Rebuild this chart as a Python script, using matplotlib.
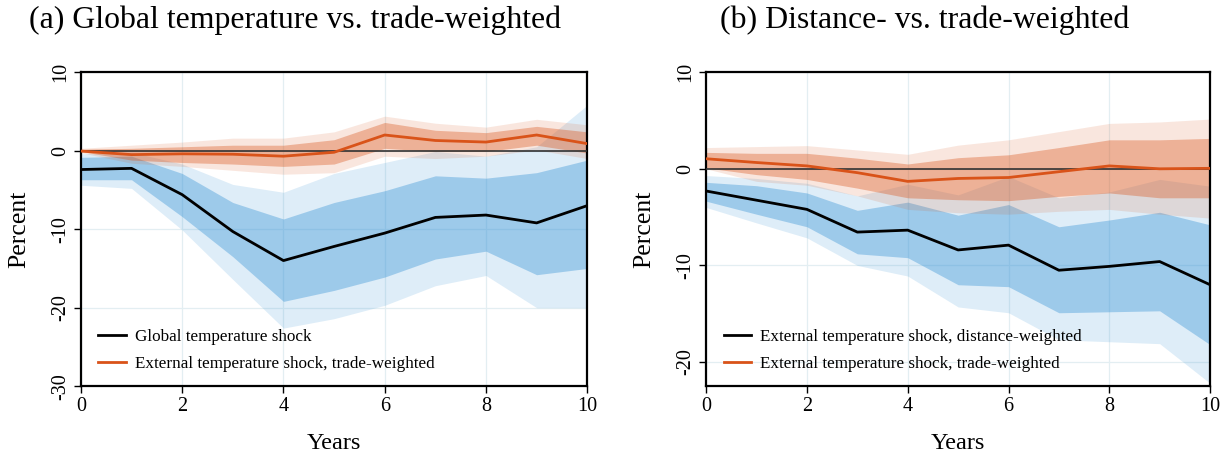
import matplotlib
matplotlib.use("Agg")
import matplotlib.pyplot as plt
import numpy as np

plt.rcParams['font.family'] = ['Liberation Serif', 'DejaVu Serif']
plt.rcParams['axes.unicode_minus'] = False

years = np.arange(0, 11)

# (a) global temperature shock
glob_mid = [-2.4, -2.25, -5.6, -10.3, -14.0, -12.2, -10.5, -8.5, -8.2, -9.2, -7.0]
glob_lo68 = [-3.7, -3.7, -8.4, -13.5, -19.2, -17.8, -16.1, -13.8, -12.8, -15.8, -15.0]
glob_hi68 = [-0.85, -0.7, -2.9, -6.6, -8.7, -6.6, -5.1, -3.2, -3.5, -2.8, -1.2]
glob_lo90 = [-4.4, -4.8, -10.1, -16.4, -22.6, -21.4, -19.7, -17.2, -15.9, -20.0, -20.0]
glob_hi90 = [-0.4, -0.2, -1.7, -4.3, -5.3, -2.9, -1.5, -0.1, -0.7, 0.5, 5.8]

# (a) external shock, trade-weighted
tradeA_mid = [-0.05, -0.5, -0.4, -0.45, -0.7, -0.2, 2.0, 1.3, 1.1, 2.0, 0.9]
tradeA_lo68 = [-0.1, -1.2, -1.5, -1.7, -2.0, -1.7, 0.3, -0.1, -0.1, 0.7, -0.3]
tradeA_hi68 = [0.2, 0.3, 0.5, 0.7, 0.7, 1.4, 3.6, 2.6, 2.3, 3.1, 2.4]
tradeA_lo90 = [-0.25, -1.6, -2.0, -2.5, -3.0, -2.8, -0.7, -1.0, -0.7, 0.1, -1.0]
tradeA_hi90 = [0.3, 0.7, 1.1, 1.6, 1.6, 2.4, 4.4, 3.5, 3.0, 4.0, 3.3]

# (b) external shock, distance-weighted
dist_mid = [-2.3, -3.25, -4.2, -6.55, -6.35, -8.4, -7.9, -10.5, -10.1, -9.6, -12.0]
dist_lo68 = [-3.35, -4.7, -6.0, -8.8, -9.2, -12.0, -12.2, -14.9, -14.8, -14.7, -18.2]
dist_hi68 = [-1.4, -1.75, -2.5, -4.3, -3.45, -4.8, -3.7, -6.0, -5.3, -4.5, -5.8]
dist_lo90 = [-4.0, -5.6, -7.15, -10.0, -11.1, -14.3, -14.9, -17.7, -17.9, -18.1, -22.2]
dist_hi90 = [-0.7, -1.0, -1.5, -2.8, -1.6, -2.7, -0.8, -3.0, -2.4, -1.1, -1.8]

# (b) external shock, trade-weighted
tradeB_mid = [1.04, 0.65, 0.3, -0.4, -1.3, -1.0, -0.9, -0.3, 0.3, 0.0, 0.05]
tradeB_lo68 = [0.1, -0.6, -1.1, -2.0, -3.0, -3.2, -3.3, -2.85, -2.5, -3.0, -3.0]
tradeB_hi68 = [1.7, 1.6, 1.6, 1.1, 0.5, 1.15, 1.45, 2.2, 3.0, 3.0, 3.15]
tradeB_lo90 = [0.0, -1.3, -1.7, -2.8, -4.2, -4.55, -4.7, -4.4, -4.2, -4.7, -5.1]
tradeB_hi90 = [2.2, 2.3, 2.4, 1.95, 1.5, 2.45, 3.0, 3.85, 4.7, 4.85, 5.15]

BLUE = (60/255, 150/255, 215/255)
ORANGE = (217/255, 83/255, 25/255)

fig = plt.figure(figsize=(12.26, 4.57), dpi=100)
axA = fig.add_axes([0.066, 0.155, 0.413, 0.687])
axB = fig.add_axes([0.576, 0.155, 0.411, 0.687])


def panel(ax, mid1, lo68_1, hi68_1, lo90_1, hi90_1,
          mid2, lo68_2, hi68_2, lo90_2, hi90_2, labels, ylim, yticks):
    ax.fill_between(years, lo90_1, hi90_1, color=BLUE, alpha=0.17, lw=0)
    ax.fill_between(years, lo68_1, hi68_1, color=BLUE, alpha=0.40, lw=0)
    ax.fill_between(years, lo90_2, hi90_2, color=ORANGE, alpha=0.14, lw=0)
    ax.fill_between(years, lo68_2, hi68_2, color=ORANGE, alpha=0.36, lw=0)
    ax.axhline(0, color='#333333', lw=1.2, zorder=3)
    ax.plot(years, mid1, color='black', lw=2, label=labels[0], zorder=4)
    ax.plot(years, mid2, color=ORANGE, lw=2, label=labels[1], zorder=4)
    ax.set_xlim(0, 10)
    ax.set_ylim(*ylim)
    ax.set_xticks([0, 2, 4, 6, 8, 10])
    ax.set_yticks(yticks)
    ax.grid(True, color='#e3eef2', lw=0.9, zorder=0)
    ax.set_axisbelow(True)
    for s in ax.spines.values():
        s.set_linewidth(1.6)
        s.set_color('black')
    ax.tick_params(direction='out', length=5, width=1, labelsize=14.5, pad=3)
    for t in ax.get_yticklabels():
        t.set_rotation(90)
        t.set_va('center')
    ax.set_xlabel('Years', fontsize=17.5, labelpad=12)
    ax.set_ylabel('Percent', fontsize=18.5, labelpad=15)
    ax.legend(loc='lower left', frameon=False, fontsize=12.3, handlelength=1.6,
              handletextpad=0.55, labelspacing=0.62, borderaxespad=0.45,
              bbox_to_anchor=(0.006, 0.0))


panel(axA, glob_mid, glob_lo68, glob_hi68, glob_lo90, glob_hi90,
      tradeA_mid, tradeA_lo68, tradeA_hi68, tradeA_lo90, tradeA_hi90,
      ['Global temperature shock', 'External temperature shock, trade-weighted'],
      (-30, 10), [10, 0, -10, -20, -30])
panel(axB, dist_mid, dist_lo68, dist_hi68, dist_lo90, dist_hi90,
      tradeB_mid, tradeB_lo68, tradeB_hi68, tradeB_lo90, tradeB_hi90,
      ['External temperature shock, distance-weighted',
       'External temperature shock, trade-weighted'],
      (-22.5, 10), [10, 0, -10, -20])

fig.text(0.2406, 0.955, '(a) Global temperature vs. trade-weighted', fontsize=22.9,
         ha='center', va='center')
fig.text(0.754, 0.955, '(b) Distance- vs. trade-weighted', fontsize=22.9,
         ha='center', va='center')

fig.savefig('out.png', dpi=100)
